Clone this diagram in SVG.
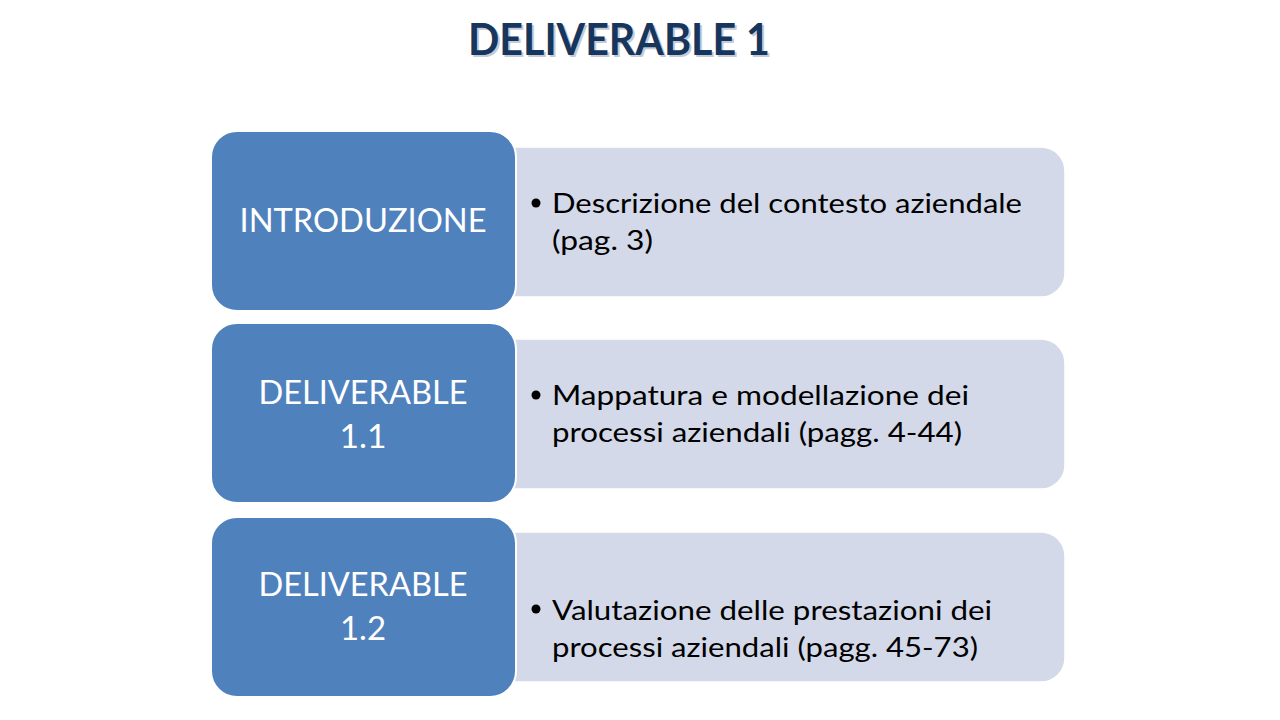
<svg xmlns="http://www.w3.org/2000/svg" width="1280" height="720" viewBox="0 0 1280 720">
<style>
.blue{fill:#4F81BD;stroke:#FFFFFF;stroke-width:2}
.gray{fill:#D3D9E8;stroke:#FFFFFF;stroke-width:1.5}
.lt{font-family:Lato,"Open Sans","Liberation Sans",sans-serif;font-size:32px;fill:#FFFFFF;text-anchor:middle}
.bt{font-family:Lato,"Open Sans","Liberation Sans",sans-serif;font-size:26px;fill:#000000}
.title{font-family:Lato,"Open Sans","Liberation Sans",sans-serif;font-size:44px;font-weight:bold;text-anchor:middle}
</style>
<rect width="1280" height="720" fill="#FFFFFF"/>
<g id="title">
<text class="title" x="621" y="57" fill="#A0A8B8" opacity="0.6" textLength="302" lengthAdjust="spacingAndGlyphs">DELIVERABLE 1</text>
<text class="title" x="619" y="55" fill="#17365D" textLength="302" lengthAdjust="spacingAndGlyphs">DELIVERABLE 1</text>
</g>
<g id="row1">
<rect class="gray" x="490" y="147" width="575" height="150" rx="24"/>
<rect class="blue" x="211" y="131" width="305" height="180" rx="26"/>
<text class="lt" x="363" y="232" textLength="247" lengthAdjust="spacingAndGlyphs">INTRODUZIONE</text>
<circle cx="536" cy="203" r="4.5" fill="#000000"/>
<text class="bt" x="552" y="213" textLength="470" lengthAdjust="spacingAndGlyphs">Descrizione del contesto aziendale</text>
<text class="bt" x="552" y="250" textLength="101" lengthAdjust="spacingAndGlyphs">(pag. 3)</text>
</g>
<g id="row2">
<rect class="gray" x="490" y="339" width="575" height="150" rx="24"/>
<rect class="blue" x="211" y="323" width="305" height="180" rx="26"/>
<text class="lt" x="363" y="404" textLength="209" lengthAdjust="spacingAndGlyphs">DELIVERABLE</text>
<text class="lt" x="363" y="448" textLength="47" lengthAdjust="spacingAndGlyphs">1.1</text>
<circle cx="536" cy="395" r="4.5" fill="#000000"/>
<text class="bt" x="552" y="405" textLength="417" lengthAdjust="spacingAndGlyphs">Mappatura e modellazione dei</text>
<text class="bt" x="552" y="442" textLength="410" lengthAdjust="spacingAndGlyphs">processi aziendali (pagg. 4-44)</text>
</g>
<g id="row3">
<rect class="gray" x="490" y="532" width="575" height="150" rx="24"/>
<rect class="blue" x="211" y="517" width="305" height="180" rx="26"/>
<text class="lt" x="363" y="596" textLength="209" lengthAdjust="spacingAndGlyphs">DELIVERABLE</text>
<text class="lt" x="363" y="640" textLength="46" lengthAdjust="spacingAndGlyphs">1.2</text>
<circle cx="536" cy="609" r="4.5" fill="#000000"/>
<text class="bt" x="552" y="620" textLength="440" lengthAdjust="spacingAndGlyphs">Valutazione delle prestazioni dei</text>
<text class="bt" x="552" y="657" textLength="426" lengthAdjust="spacingAndGlyphs">processi aziendali (pagg. 45-73)</text>
</g>
<g id="connectors"/>
</svg>
